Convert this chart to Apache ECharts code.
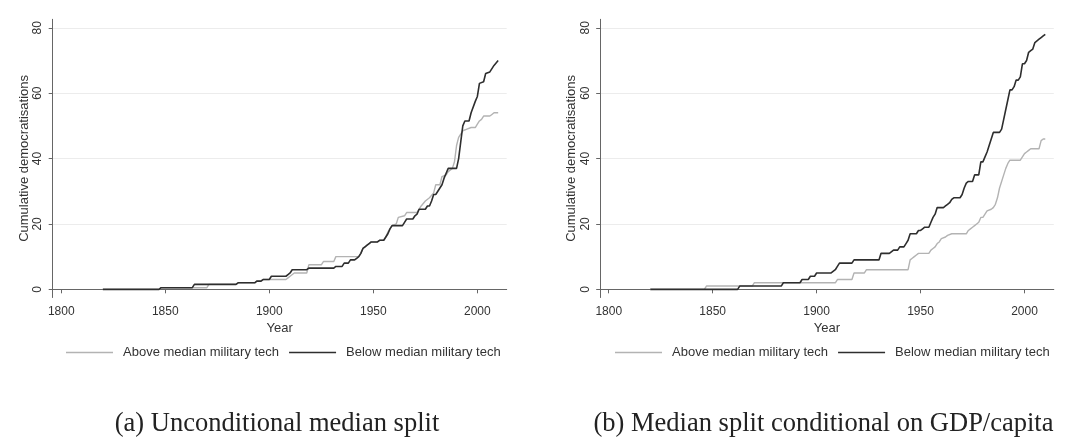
<!DOCTYPE html>
<html>
<head>
<meta charset="utf-8">
<script src="https://cdn.jsdelivr.net/npm/echarts@6/dist/echarts.min.js"></script>
<style>
  html, body { margin: 0; padding: 0; background: #ffffff; }
  #chart { width: 1080px; height: 437px; }
</style>
</head>
<body>
<div id="chart"></div>
<script>
// ---- Data ----
const xTicks = [1800, 1850, 1900, 1950, 2000];
const yTicks = [0, 20, 40, 60, 80];
const seriesNames = ['Above median military tech', 'Below median military tech'];
const panelTitles = ['(a) Unconditional median split', '(b) Median split conditional on GDP/capita'];
const xLabel = 'Year';
const yLabel = 'Cumulative democratisations';

// Panel (a): unconditional median split  [year, cumulative count]
const aAbove = [[1820,0],[1847,0],[1848,0.5],[1870,0.5],[1871,1.5],[1884,1.5],[1885,2],[1893,2],[1894,2.5],[1896,2.5],[1897,3],[1908,3],[1909,3.5],[1910,4],[1912,5],[1918,5],[1919,7.5],[1925,7.5],[1926,8.5],[1931,8.5],[1932,10],[1943,10],[1944,11],[1945,12.5],[1946,13],[1947,13.5],[1948,14],[1949,14.5],[1952,14.5],[1953,15],[1955,15],[1956,16],[1957,17.5],[1958,18.5],[1959,19.5],[1961,20],[1962,22],[1965,22.5],[1966,23.5],[1971,23.5],[1972,24.5],[1973,25.5],[1975,27],[1977,28],[1979,29.5],[1980,32],[1982,32],[1983,34.5],[1985,35],[1986,36],[1988,37],[1989,39],[1990,44],[1991,46.5],[1993,48.5],[1995,49],[1997,49.5],[1999,49.5],[2000,50.5],[2001,51.5],[2002,52],[2003,53],[2006,53],[2007,53.5],[2008,54],[2010,54]];
const aBelow = [[1820,0],[1847,0],[1848,0.5],[1863,0.5],[1864,1.5],[1884,1.5],[1885,2],[1893,2],[1894,2.5],[1896,2.5],[1897,3],[1900,3],[1901,4],[1908,4],[1909,4.5],[1910,5],[1911,6],[1918,6],[1919,6.5],[1931,6.5],[1932,7],[1935,7],[1936,8],[1938,8],[1939,9],[1941,9],[1942,9.5],[1943,10],[1944,11],[1945,12.5],[1946,13],[1947,13.5],[1948,14],[1949,14.5],[1952,14.5],[1953,15],[1955,15],[1956,16],[1957,17],[1958,18.5],[1959,19.5],[1964,19.5],[1965,20.5],[1966,21.5],[1969,21.5],[1970,22.5],[1971,23],[1972,24.5],[1975,24.5],[1976,25.5],[1977,25.5],[1978,27],[1979,29],[1980,29],[1981,30],[1982,31],[1983,32],[1984,34],[1985,35.5],[1986,37],[1990,37],[1991,40],[1992,45],[1993,50],[1994,51.5],[1996,51.5],[1997,54],[1999,57.5],[2000,59],[2001,63],[2003,63.5],[2004,66],[2006,66.5],[2008,68.5],[2010,70]];

// Panel (b): median split conditional on GDP/capita
const bAbove = [[1820,0],[1846,0],[1847,1],[1869,1],[1870,2],[1909,2],[1910,3],[1917,3],[1918,5],[1923,5],[1924,6],[1944,6],[1945,9],[1946,9.5],[1947,10],[1948,10.5],[1949,11],[1954,11],[1955,12],[1956,12.5],[1957,13],[1958,14],[1959,14.5],[1960,15.5],[1962,16],[1963,16.5],[1965,17],[1972,17],[1973,18],[1974,18.5],[1975,19],[1976,19.5],[1977,20],[1978,20.5],[1979,22],[1980,22],[1981,23],[1982,24],[1984,24.5],[1985,25],[1986,26],[1987,28],[1988,31],[1989,33],[1990,35],[1991,37],[1992,38.5],[1993,39.5],[1998,39.5],[1999,40.5],[2000,41.5],[2001,42],[2002,42.5],[2003,43],[2007,43],[2008,45.5],[2009,46],[2010,46]];
const bBelow = [[1820,0],[1862,0],[1863,1],[1883,1],[1884,2],[1892,2],[1893,3],[1896,3],[1897,4],[1899,4],[1900,5],[1907,5],[1909,6],[1910,7],[1911,8],[1917,8],[1918,9],[1930,9],[1931,11],[1935,11],[1937,12],[1939,12],[1940,13],[1942,13],[1943,14],[1944,15],[1945,17],[1948,17],[1949,18],[1950,18],[1951,18.5],[1952,19],[1954,19],[1955,20.5],[1956,22],[1957,23],[1958,25],[1961,25],[1962,25.5],[1963,26],[1964,26.5],[1965,27.5],[1966,28],[1969,28],[1970,29],[1971,31],[1972,32.5],[1973,33],[1975,33],[1976,35],[1978,35],[1979,39],[1980,39],[1981,40.5],[1982,42],[1983,44],[1984,46],[1985,48],[1988,48],[1989,49],[1990,52],[1991,55],[1992,58],[1993,61],[1994,61],[1995,62],[1996,64],[1997,64],[1998,65],[1999,69],[2000,69],[2001,70],[2002,72.5],[2003,73],[2004,73.5],[2005,75.5],[2006,76],[2007,76.5],[2008,77],[2009,77.5],[2010,78]];

// ---- Styling ----
const FONT = '"Liberation Sans", Arial, Helvetica, sans-serif';
const SERIF = '"Liberation Serif", "Times New Roman", serif';
const LIGHT = '#b3b3b3';
const DARK = '#2e2e2e';
const AXIS = '#666666';
const TEXT = '#333333';

const grids = [
  { left: 52.7, top: 19.3, width: 454, height: 278.2 },
  { left: 600.2, top: 19.3, width: 453.6, height: 278.2 }
];

function xAxisFor(i) {
  return {
    type: 'value', gridIndex: i, min: 1795.9, max: 2014.1,
    name: xLabel, nameLocation: 'middle', nameGap: 20,
    nameTextStyle: { fontFamily: FONT, fontSize: 13, color: TEXT },
    axisLine: { show: true, lineStyle: { color: AXIS, width: 1 } },
    axisTick: { show: true, length: 4, customValues: xTicks, lineStyle: { color: AXIS } },
    axisLabel: { customValues: xTicks, margin: 8, fontFamily: FONT, fontSize: 12, color: TEXT,
                 formatter: function (v) { return String(v); } },
    splitLine: { show: false }
  };
}
function yAxisFor(i) {
  return {
    type: 'value', gridIndex: i, min: -2.5, max: 82.6,
    name: yLabel, nameLocation: 'middle', nameGap: 22,
    nameTextStyle: { fontFamily: FONT, fontSize: 13, color: TEXT },
    axisLine: { show: true, lineStyle: { color: AXIS, width: 1 } },
    axisTick: { show: true, length: 4, customValues: yTicks, lineStyle: { color: AXIS } },
    axisLabel: { customValues: yTicks, rotate: 90, margin: 9, fontFamily: FONT, fontSize: 12, color: TEXT,
                 formatter: function (v) { return String(v); } },
    splitLine: { show: true, lineStyle: { color: '#ececec', width: 1 } }
  };
}
function lineSeries(name, data, i, color, width) {
  return {
    type: 'line', name: name, xAxisIndex: i, yAxisIndex: i, data: data,
    showSymbol: false, symbol: 'none', animation: false,
    lineStyle: { color: color, width: width }, itemStyle: { color: color }
  };
}
function legendFor(left) {
  return {
    left: left, top: 346, orient: 'horizontal', padding: 0,
    data: seriesNames, icon: 'rect', itemWidth: 47, itemHeight: 1.5, itemGap: 10,
    selectedMode: false,
    textStyle: { fontFamily: FONT, fontSize: 13, color: TEXT, padding: [0, 0, 0, 5] }
  };
}

const option = {
  backgroundColor: '#ffffff',
  animation: false,
  grid: grids,
  xAxis: [xAxisFor(0), xAxisFor(1)],
  yAxis: [yAxisFor(0), yAxisFor(1)],
  legend: [legendFor(66), legendFor(615)],
  title: [
    { text: panelTitles[0], left: 277, top: 411, textAlign: 'center', padding: 0,
      textStyle: { fontFamily: SERIF, fontSize: 26.5, fontWeight: 'normal', color: '#222' } },
    { text: panelTitles[1], left: 823.5, top: 411, textAlign: 'center', padding: 0,
      textStyle: { fontFamily: SERIF, fontSize: 26.5, fontWeight: 'normal', color: '#222' } }
  ],
  series: [
    lineSeries(seriesNames[0], aAbove, 0, LIGHT, 1.4),
    lineSeries(seriesNames[1], aBelow, 0, DARK, 1.6),
    lineSeries(seriesNames[0], bAbove, 1, LIGHT, 1.4),
    lineSeries(seriesNames[1], bBelow, 1, DARK, 1.6)
  ]
};

const chart = echarts.init(document.getElementById('chart'), null, { renderer: 'canvas' });
chart.setOption(option);
</script>
</body>
</html>
